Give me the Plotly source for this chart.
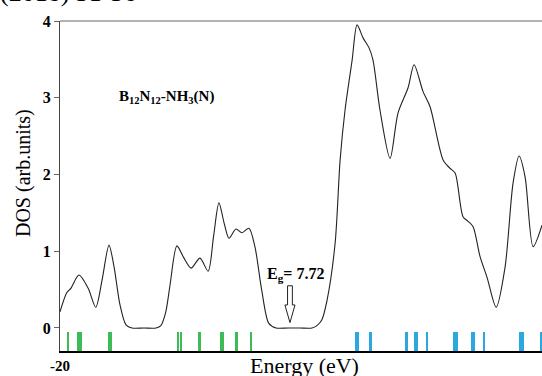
import plotly.graph_objects as go

# DOS curve (energy in eV, DOS in arb. units)
energy = [-20.0, -19.72, -19.54, -19.21, -18.83, -18.51, -18.25, -17.96, -17.75, -17.5,
          -17.25, -17.0, -16.5, -16.0, -15.8, -15.6, -15.42, -15.13, -14.85, -14.54,
          -14.17, -13.83, -13.6, -13.38, -13.15, -12.96, -12.67, -12.42, -12.13, -11.88,
          -11.6, -11.3, -11.0, -10.5, -10.0, -9.5, -9.3, -9.1, -8.875, -8.54,
          -8.33, -8.125, -7.83, -7.625, -7.375, -7.125, -6.96, -6.67, -6.25, -5.92,
          -5.5, -5.25, -4.875, -4.58, -4.04, -3.75, -3.54, -3.21, -3.0, -2.79,
          -2.5, -2.21, -1.83, -1.46, -1.125, -0.875, -0.625, -0.29, 0.08]
dos = [0.21, 0.46, 0.52, 0.69, 0.52, 0.27, 0.62, 1.08, 0.8, 0.3,
       0.04, 0.0, 0.0, 0.0, 0.03, 0.2, 0.55, 1.07, 0.92, 0.78,
       0.91, 0.74, 1.2, 1.63, 1.35, 1.17, 1.29, 1.24, 1.30, 1.06,
       0.5, 0.06, 0.0, 0.0, 0.0, 0.0, 0.03, 0.1, 0.36, 1.1,
       2.19, 2.84, 3.49, 3.95, 3.78, 3.65, 3.49, 2.84, 2.21, 2.8,
       3.13, 3.43, 3.08, 2.88, 2.19, 2.08, 2.02, 1.45, 1.39, 1.32,
       0.93, 0.66, 0.27, 0.79, 1.89, 2.24, 1.97, 1.06, 1.34]

# Energy levels (occupied: green, virtual: blue)
occupied_levels = [-19.65, -19.23, -19.13, -17.94, -17.88, -15.08, -14.96, -14.17,
                   -13.29, -13.19, -12.63, -12.04]
virtual_levels = [-7.67, -7.57, -7.05, -5.55, -5.21, -5.11, -4.70, -3.57, -3.47,
                  -2.82, -2.76, -2.32, -0.80, -0.71, 0.04]

x_tick_vals = [-20, 0]
x_tick_text = ["-20", "0"]
y_tick_vals = [0, 1, 2, 3, 4]
y_tick_text = ["0", "1", "2", "3", "4"]

level_base = -0.3
level_height = 0.25

serif = "Liberation Serif"

fig = go.Figure()

fig.add_trace(go.Bar(
    x=occupied_levels, y=[level_height] * len(occupied_levels), base=level_base,
    width=0.08, marker=dict(color="#3dbb55", line=dict(width=0)), showlegend=False))
fig.add_trace(go.Bar(
    x=virtual_levels, y=[level_height] * len(virtual_levels), base=level_base,
    width=0.08, marker=dict(color="#2aa8e0", line=dict(width=0)), showlegend=False))

fig.add_trace(go.Scatter(
    x=energy, y=dos, mode="lines",
    line=dict(color="#222222", width=1.1, shape="spline", smoothing=0.8),
    showlegend=False))

fig.update_layout(
    width=542, height=376,
    margin=dict(l=60, r=0, t=21, b=25),
    plot_bgcolor="white", paper_bgcolor="white",
    font=dict(family=serif, color="black"),
    xaxis=dict(range=[-20, 0.08], tickvals=x_tick_vals,
               ticktext=["<b>%s</b>" % t for t in x_tick_text],
               showgrid=False, zeroline=False, showline=True, linecolor="black",
               linewidth=2, ticks="", tickfont=dict(family=serif, size=15, color="black"),
               ticklabelstandoff=0),
    yaxis=dict(range=[-0.3, 4], tickvals=y_tick_vals,
               ticktext=["<b>%s</b>" % t for t in y_tick_text],
               showgrid=False, zeroline=False, showline=True, linecolor="#444444",
               linewidth=1, ticks="outside", ticklen=5, tickcolor="#666666",
               tickfont=dict(family=serif, size=16, color="black")),
    bargap=0,
)

# top border line
fig.add_shape(type="line", xref="paper", yref="paper", x0=0, x1=1, y0=1, y1=1,
              line=dict(color="#999999", width=1.5))

# hollow arrow marking the gap
fig.add_shape(type="path",
              path="M -10.52 0.55 L -10.32 0.55 L -10.32 0.30 L -10.21 0.30 L -10.42 0.07 "
                   "L -10.63 0.30 L -10.52 0.30 Z",
              xref="x", yref="y", line=dict(color="#222222", width=1), fillcolor="white")

fig.add_annotation(text="<b>B<sub>12</sub>N<sub>12</sub>-NH<sub>3</sub>(N)</b>",
                   xref="paper", yref="paper", x=0.22, y=0.77, showarrow=False,
                   xanchor="center", yanchor="middle",
                   font=dict(family=serif, size=15, color="black"))
fig.add_annotation(text="<b>E<sub>g</sub>= 7.72</b>",
                   xref="paper", yref="paper", x=0.4876, y=0.233, showarrow=False,
                   xanchor="center", yanchor="middle",
                   font=dict(family=serif, size=16, color="black"))
fig.add_annotation(text="DOS (arb.units)", textangle=-90,
                   xref="paper", yref="paper", x=-0.077, y=0.539, showarrow=False,
                   xanchor="center", yanchor="middle",
                   font=dict(family=serif, size=20, color="black"))
fig.add_annotation(text="Energy (eV)",
                   xref="paper", yref="paper", x=0.508, y=0.0, showarrow=False,
                   xanchor="center", yanchor="top",
                   font=dict(family=serif, size=22, color="black"))
fig.add_annotation(text="(2018) 31-36", xanchor="left", yanchor="bottom",
                   xref="paper", yref="paper", x=-0.129, y=1.036, showarrow=False,
                   font=dict(family=serif, size=26, color="black"))

fig.write_html("out.html", config={"displayModeBar": False},
               post_script="document.body.style.margin='0';document.body.style.overflow='hidden';")
